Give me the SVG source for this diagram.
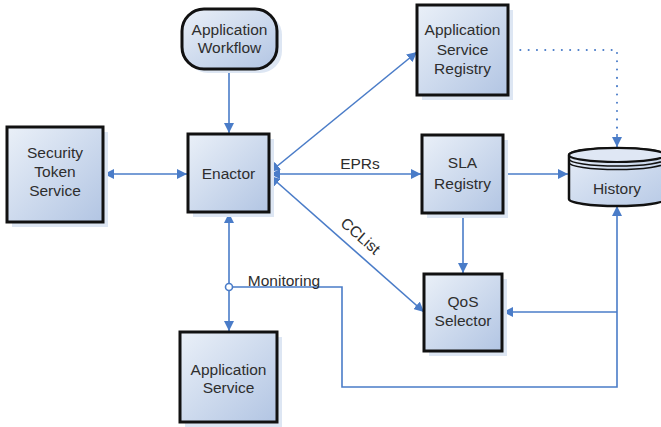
<svg xmlns="http://www.w3.org/2000/svg" width="661" height="427" viewBox="0 0 661 427">
  <defs>
    <linearGradient id="boxFill" x1="0" y1="0" x2="1" y2="1">
      <stop offset="0" stop-color="#eaf0f8"/>
      <stop offset="1" stop-color="#b2c5e3"/>
    </linearGradient>
    <linearGradient id="cylFill" x1="0" y1="0" x2="1" y2="1">
      <stop offset="0" stop-color="#e6edf7"/>
      <stop offset="1" stop-color="#b8cae6"/>
    </linearGradient>
    <marker id="arrow" viewBox="0 0 10 10" refX="10" refY="5" markerWidth="10" markerHeight="10" markerUnits="userSpaceOnUse" orient="auto-start-reverse">
      <path d="M0,0 L10,5 L0,10 Z" fill="#4a7cc8"/>
    </marker>
  </defs>
  <style>
    .box { fill: url(#boxFill); stroke: #111; stroke-width: 3; }
    .shadow { fill: #dde6f3; }
    .label { font-family: "Liberation Sans", Arial, sans-serif; font-size: 15.5px; fill: #2e2e2e; text-anchor: middle; }
    .conn { fill: none; stroke: #4a7cc8; stroke-width: 1.6; }
    .dotted { fill: none; stroke: #4a7cc8; stroke-width: 2; stroke-dasharray: 0.1 8.2; stroke-linecap: round; }
  </style>

  <rect width="661" height="427" fill="#ffffff"/>

  <!-- connectors -->
  <g id="connectors">
    <line class="conn" x1="229" y1="70" x2="229" y2="133" marker-end="url(#arrow)"/>
    <line class="conn" x1="104" y1="174" x2="187" y2="174" marker-start="url(#arrow)" marker-end="url(#arrow)"/>
    <line class="conn" x1="270" y1="172" x2="417" y2="52" marker-start="url(#arrow)" marker-end="url(#arrow)"/>
    <line class="conn" x1="270" y1="174" x2="421" y2="174" marker-start="url(#arrow)" marker-end="url(#arrow)"/>
    <line class="conn" x1="270" y1="176" x2="424" y2="312" marker-start="url(#arrow)" marker-end="url(#arrow)"/>
    <line class="conn" x1="229" y1="213" x2="229" y2="331" marker-start="url(#arrow)" marker-end="url(#arrow)"/>
    <circle cx="229" cy="287" r="3.5" fill="#ffffff" stroke="#4a7cc8" stroke-width="1.6"/>
    <path class="conn" d="M232.5,287 H342 V387 H617 V206" marker-end="url(#arrow)"/>
    <path class="conn" d="M617,312 H503" marker-end="url(#arrow)"/>
    <line class="conn" x1="504" y1="174" x2="568" y2="174" marker-end="url(#arrow)"/>
    <line class="conn" x1="463" y1="214" x2="463" y2="273" marker-end="url(#arrow)"/>
    <path class="dotted" d="M512,50 H617 V134"/>
    <line class="conn" x1="617" y1="134" x2="617" y2="147" marker-end="url(#arrow)"/>
    <text class="label" x="360" y="169">EPRs</text>
    <text class="label" x="357" y="240" transform="rotate(41 357 240)">CCList</text>
    <text class="label" x="284" y="286" font-size="15">Monitoring</text>
  </g>

  <!-- nodes -->
  <g id="application-workflow">
    <rect class="shadow" x="186" y="13" width="96" height="60" rx="22"/>
    <rect class="box" x="182" y="9" width="95" height="60" rx="22" stroke-width="1.6"/>
    <text class="label" x="229.5" y="35" font-size="16">Application</text>
    <text class="label" x="229.5" y="53" font-size="16">Workflow</text>
  </g>

  <g id="security-token-service">
    <rect class="shadow" x="12" y="132" width="96" height="95"/>
    <rect class="box" x="7" y="127" width="96" height="95"/>
    <text class="label" x="55" y="158">Security</text>
    <text class="label" x="55" y="177">Token</text>
    <text class="label" x="55" y="196">Service</text>
  </g>

  <g id="enactor">
    <rect class="shadow" x="193" y="139" width="81" height="78"/>
    <rect class="box" x="188" y="134" width="81" height="78"/>
    <text class="label" x="228.5" y="179" font-size="17.5">Enactor</text>
  </g>

  <g id="application-service-registry">
    <rect class="shadow" x="422" y="10" width="91" height="90"/>
    <rect class="box" x="417" y="5" width="91" height="90"/>
    <text class="label" x="462.5" y="35" font-size="16">Application</text>
    <text class="label" x="462.5" y="55" font-size="16">Service</text>
    <text class="label" x="462.5" y="74" font-size="16">Registry</text>
  </g>

  <g id="sla-registry">
    <rect class="shadow" x="427" y="140" width="81" height="78"/>
    <rect class="box" x="422" y="135" width="81" height="78"/>
    <text class="label" x="462.5" y="168" font-size="16">SLA</text>
    <text class="label" x="462.5" y="189" font-size="16">Registry</text>
  </g>

  <g id="history">
    <path d="M569,155 A48,7 0 0 1 665,155 V199 A48,7 0 0 1 569,199 Z" fill="url(#cylFill)" stroke="#111" stroke-width="2.5"/>
    <ellipse cx="617" cy="155" rx="48" ry="7" fill="#dfe7f4" stroke="#111" stroke-width="2.2"/>
    <path d="M569,159 A48,7 0 0 0 665,159" fill="none" stroke="#111" stroke-width="1.6"/>
    <path d="M569,162.5 A48,7 0 0 0 665,162.5" fill="none" stroke="#111" stroke-width="1.6"/>
    <text class="label" x="617" y="194">History</text>
  </g>

  <g id="qos-selector">
    <rect class="shadow" x="429" y="279" width="78" height="77"/>
    <rect class="box" x="424" y="274" width="78" height="77"/>
    <text class="label" x="463" y="307">QoS</text>
    <text class="label" x="463" y="326">Selector</text>
  </g>

  <g id="application-service">
    <rect class="shadow" x="185" y="337" width="97" height="90"/>
    <rect class="box" x="180" y="332" width="97" height="90"/>
    <text class="label" x="228.5" y="375" font-size="16">Application</text>
    <text class="label" x="228.5" y="393" font-size="16">Service</text>
  </g>
</svg>
